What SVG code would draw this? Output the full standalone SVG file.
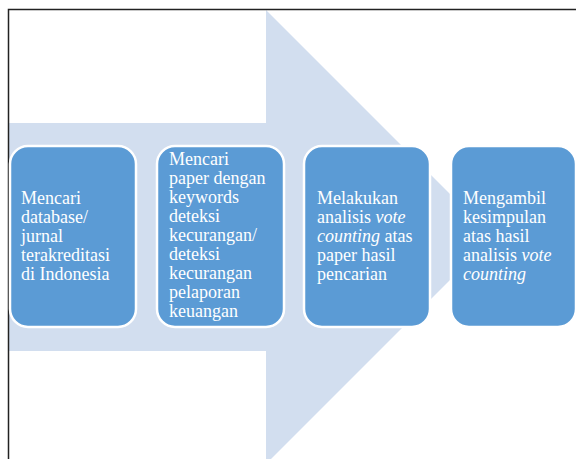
<svg xmlns="http://www.w3.org/2000/svg" width="576" height="459" viewBox="0 0 576 459">
  <style>
    .step { fill: #5B9BD5; stroke: #FFFFFF; stroke-width: 2.5; }
    .label { font-family: "Liberation Serif", "Times New Roman", serif; font-size: 18px; fill: #FFFFFF; }
    .it { font-style: italic; }
  </style>
  <rect x="0" y="0" width="576" height="459" fill="#FFFFFF"/>

  <!-- background process arrow -->
  <g id="arrow">
    <polygon points="9,123 266,123 266,10 493,237 266,464 266,351 9,351" fill="#D2DEEF"/>
  </g>

  <!-- frame edges -->
  <path d="M8.5,459 V9.5 H576" fill="none" stroke="#222222" stroke-width="1.5"/>

  <g id="step1">
    <rect class="step" x="10" y="146" width="126" height="181" rx="18" ry="18"/>
    <text class="label" x="21" y="204">Mencari</text>
    <text class="label" x="21" y="223">database/</text>
    <text class="label" x="21" y="242">jurnal</text>
    <text class="label" x="21" y="261">terakreditasi</text>
    <text class="label" x="21" y="280">di Indonesia</text>
  </g>

  <g id="step2">
    <rect class="step" x="157" y="146" width="127" height="181" rx="18" ry="18"/>
    <text class="label" x="169" y="165">Mencari</text>
    <text class="label" x="169" y="184">paper dengan</text>
    <text class="label" x="169" y="203">keywords</text>
    <text class="label" x="169" y="222">deteksi</text>
    <text class="label" x="169" y="241">kecurangan/</text>
    <text class="label" x="169" y="260">deteksi</text>
    <text class="label" x="169" y="279">kecurangan</text>
    <text class="label" x="169" y="298">pelaporan</text>
    <text class="label" x="169" y="317">keuangan</text>
  </g>

  <g id="step3">
    <rect class="step" x="304" y="146" width="126" height="181" rx="18" ry="18"/>
    <text class="label" x="317" y="204">Melakukan</text>
    <text class="label" x="317" y="223">analisis <tspan class="it">vote</tspan></text>
    <text class="label" x="317" y="242"><tspan class="it">counting</tspan> atas</text>
    <text class="label" x="317" y="261">paper hasil</text>
    <text class="label" x="317" y="280">pencarian</text>
  </g>

  <g id="step4">
    <rect class="step" x="451" y="146" width="125" height="181" rx="18" ry="18"/>
    <text class="label" x="463" y="204">Mengambil</text>
    <text class="label" x="463" y="223">kesimpulan</text>
    <text class="label" x="463" y="242">atas hasil</text>
    <text class="label" x="463" y="261">analisis <tspan class="it">vote</tspan></text>
    <text class="label it" x="463" y="280">counting</text>
  </g>

  <g id="connectors"></g>
</svg>
